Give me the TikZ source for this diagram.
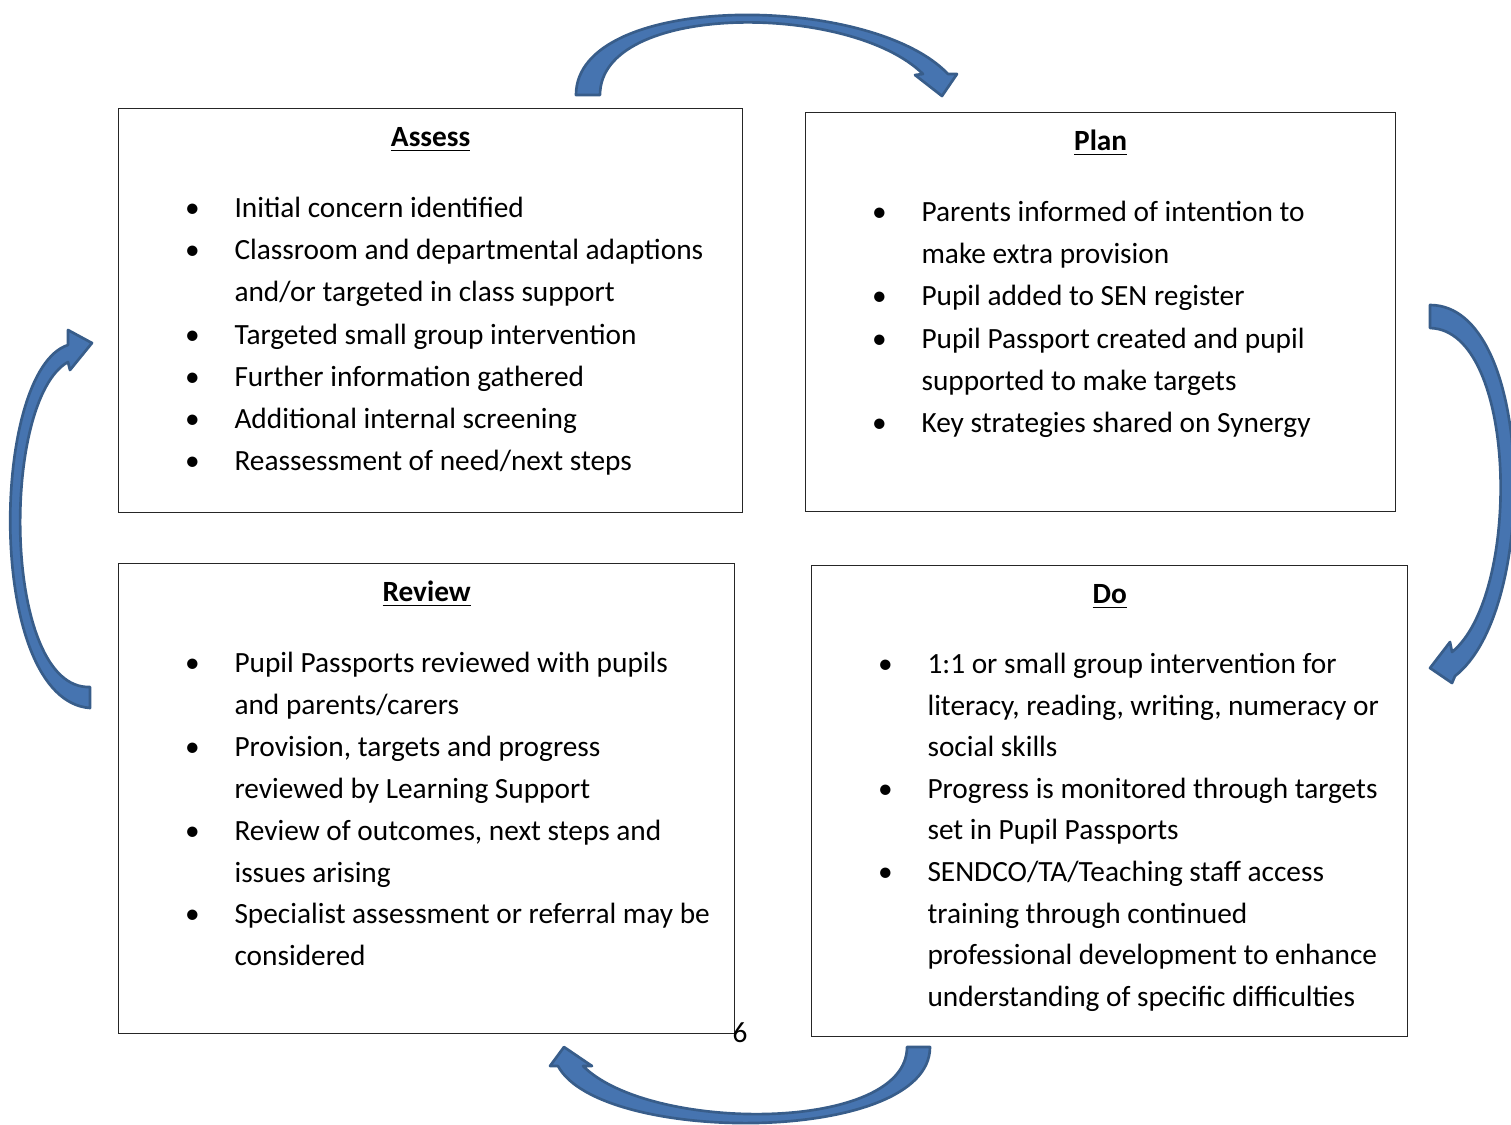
\documentclass[tikz,border=0pt]{standalone}
\usepackage{fontspec}
\setmainfont{Carlito}
\usepackage{tikz}
\usetikzlibrary{positioning}
\definecolor{arrowfill}{HTML}{4674B0}
\definecolor{arrowline}{HTML}{385D8A}
\newcommand{\bodyfont}{\fontsize{11}{15.8}\selectfont}
\newcommand{\bul}{\makebox[15.75pt][l]{\makebox[0pt][c]{\textbullet}}}
\newcommand{\cont}{\hspace*{15.75pt}}

\begin{document}
\begin{tikzpicture}[x=0.375pt,y=-0.375pt,font=\bodyfont,
    box/.style={draw=black!85,line width=0.5pt,inner sep=0pt,anchor=north west},
    title/.style={font=\bodyfont\bfseries,inner sep=0pt,anchor=base},
    items/.style={inner sep=0pt,anchor=base west},
    arrowshape/.style={fill=arrowfill,draw=arrowline,line width=1pt,line join=round}]
  \useasboundingbox (0,0) rectangle (1511,1124);
  %boxes
  \node[box,minimum width=234pt,minimum height=151.5pt] (assess) at (118,108) {};
  \node[box,minimum width=221.25pt,minimum height=149.6pt] (plan) at (805,112) {};
  \node[box,minimum width=231pt,minimum height=176.25pt] (review) at (118,563) {};
  \node[box,minimum width=223.5pt,minimum height=176.6pt] (do) at (811,565) {};
  %headings
  \node[title,below=14.6pt of assess.north,anchor=base] (assesstitle) {\underline{Assess}};
  \node[title,below=14.6pt of plan.north,anchor=base] (plantitle) {\underline{Plan}};
  \node[title,below=14.6pt of review.north,anchor=base] (reviewtitle) {\underline{Review}};
  \node[title,below=14.6pt of do.north,anchor=base] (dotitle) {\underline{Do}};
  %bullet lists
  \node[items,below right=41.1pt and 27.75pt of assess.north west,anchor=base west] (assesslist) {%
    \begin{tabular}[t]{@{}l@{}}
      \bul Initial concern identified\\
      \bul Classroom and departmental adaptions\\
      \cont and/or targeted in class support\\
      \bul Targeted small group intervention\\
      \bul Further information gathered\\
      \bul Additional internal screening\\
      \bul Reassessment of need/next steps
    \end{tabular}};
  \node[items,below right=41.1pt and 27.75pt of plan.north west,anchor=base west] (planlist) {%
    \begin{tabular}[t]{@{}l@{}}
      \bul Parents informed of intention to\\
      \cont make extra provision\\
      \bul Pupil added to SEN register\\
      \bul Pupil Passport created and pupil\\
      \cont supported to make targets\\
      \bul Key strategies shared on Synergy
    \end{tabular}};
  \node[items,below right=41.1pt and 27.75pt of review.north west,anchor=base west] (reviewlist) {%
    \def\arraystretch{0.994}%
    \begin{tabular}[t]{@{}l@{}}
      \bul Pupil Passports reviewed with pupils\\
      \cont and parents/carers\\
      \bul Provision, targets and progress\\
      \cont reviewed by Learning Support\\
      \bul Review of outcomes, next steps and\\
      \cont issues arising\\
      \bul Specialist assessment or referral may be\\
      \cont considered
    \end{tabular}};
  \node[items,below right=40.7pt and 27.75pt of do.north west,anchor=base west] (dolist) {%
    \def\arraystretch{0.987}%
    \begin{tabular}[t]{@{}l@{}}
      \bul 1:1 or small group intervention for\\
      \cont literacy, reading, writing, numeracy or\\
      \cont social skills\\
      \bul Progress is monitored through targets\\
      \cont set in Pupil Passports\\
      \bul SENDCO/TA/Teaching staff access\\
      \cont training through continued\\
      \cont professional development to enhance\\
      \cont understanding of specific difficulties
    \end{tabular}};
  %page number
  \node[inner sep=0pt,anchor=base] (pagenum) at (740,1042) {6};
  %curved arrows
  \draw[arrowshape] (576,95) .. controls (576,-8) and (870,-8) .. (948,74) -- (957,74) -- (942,96)
    -- (915,75) -- (923,74) .. controls (850,2) and (600,2) .. (600,95) -- cycle;
  \draw[arrowshape] (1430,305) .. controls (1535,305) and (1540,610) .. (1455,676) -- (1452,683) -- (1430,668)
    -- (1450,642) -- (1452,652) .. controls (1522,595) and (1518,330) .. (1430,328) -- cycle;
  \draw[arrowshape] (930,1047) .. controls (930,1145) and (600,1145) .. (558,1066) -- (550,1066) -- (564,1047)
    -- (592,1066) -- (583,1066) .. controls (650,1133) and (907,1133) .. (907,1047) -- cycle;
  \draw[arrowshape] (90,708) .. controls (-15,700) and (-10,370) .. (68,345) -- (68,330) -- (92,343)
    -- (70,370) -- (68,362) .. controls (0,400) and (2,690) .. (90,687) -- cycle;
\end{tikzpicture}
\end{document}
